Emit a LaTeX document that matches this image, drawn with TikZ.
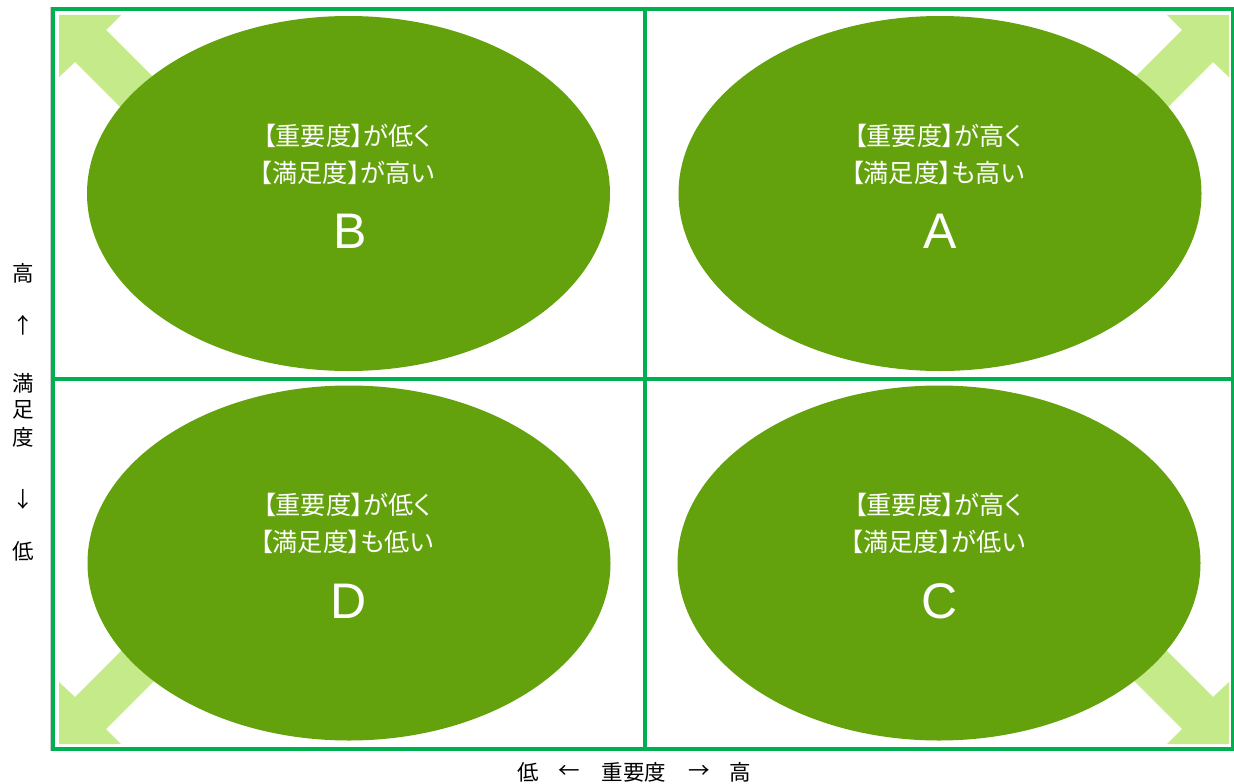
\documentclass[tikz,border=0pt]{standalone}
\usepackage{fontspec}
\newfontfamily\jp{Noto Sans CJK JP}
\newfontfamily\jpp[RawFeature=+palt]{Noto Sans CJK JP}
\newfontfamily\lat{Liberation Sans}
\usetikzlibrary{shapes.geometric}
\definecolor{frameg}{RGB}{0,176,80}
\definecolor{ellg}{RGB}{99,162,12}
\definecolor{arrg}{RGB}{196,234,138}
\begin{document}
\begin{tikzpicture}[x=1pt,y=-1pt,
  ell/.style={ellipse, fill=ellg, draw=none, inner sep=0pt, minimum width=523pt, minimum height=355pt},
  txt/.style={text=white, align=center, inner sep=0pt, font=\jpp\fontsize{25.2}{37}\selectfont},
  letter/.style={text=white, inner sep=0pt, font=\lat\fontsize{50}{50}\selectfont},
  axis/.style={text=black, inner sep=0pt, font=\jp\fontsize{21.5}{21.5}\selectfont},
  fatarrow/.style={fill=arrg, draw=none},
  gridline/.style={draw=frameg, line width=4pt}
]
\useasboundingbox (0,0) rectangle (1234,784);
\fill[white] (0,0) rectangle (1234,784);
% thin outer grey outline
\draw[gray!40, line width=0.8pt] (50.3,7.3) rectangle (1235,750.7);
% corner arrows
\def\arrowpath{(0,0) -- (62,0) -- (47,15) -- (197,165) -- (166,197) -- (16,47) -- (0,62) -- cycle}
\begin{scope}[shift={(59,15)}]
  \fill[fatarrow] \arrowpath;
\end{scope}
\begin{scope}[shift={(1229,15)}, xscale=-1]
  \fill[fatarrow] \arrowpath;
\end{scope}
\begin{scope}[shift={(59,744)}, yscale=-1]
  \fill[fatarrow] \arrowpath;
\end{scope}
\begin{scope}[shift={(1229,744)}, xscale=-1, yscale=-1]
  \fill[fatarrow] \arrowpath;
\end{scope}
% ellipses
\node[ell] (B) at (348.5,193.5) {};
\node[ell] (A) at (940,193.5) {};
\node[ell] (D) at (349,563) {};
\node[ell] (C) at (939,563) {};
% frame and dividers
\coordinate (tl) at (52.5,9.5);
\coordinate (br) at (1233,748.5);
\coordinate (mt) at (644.7,9.5);
\coordinate (mb) at (644.7,748.5);
\coordinate (ml) at (52.5,379.3);
\coordinate (mr) at (1233,379.3);
\draw[gridline] (tl) rectangle (br);
\draw[gridline] (mt) -- (mb);
\draw[gridline] (ml) -- (mr);
% ellipse texts
\node[txt] (tB) at (347,154) {【重要度】が低く\\【満足度】が高い};
\node[letter] (lB) at (350,231) {B};
\node[txt] (tA) at (938,154) {【重要度】が高く\\【満足度】も高い};
\node[letter] (lA) at (940,231) {A};
\node[txt] (tD) at (347,523.5) {【重要度】が低く\\【満足度】も低い};
\node[letter] (lD) at (349,601) {D};
\node[txt] (tC) at (938,523.5) {【重要度】が高く\\【満足度】が低い};
\node[letter] (lC) at (940,601) {C};
% vertical axis label
\node[axis] (v1) at (23,273) {高};
\node[axis] (v2) at (23,325) {↑};
\node[axis] (v3) at (23,383) {満};
\node[axis] (v4) at (23,410) {足};
\node[axis] (v5) at (23,437) {度};
\node[axis] (v6) at (23,499) {↓};
\node[axis] (v7) at (23,551) {低};
% horizontal axis label
\node[axis] (h1) at (528,772) {低};
\node[axis] (h2) at (569,772) {←};
\node[axis] (h3) at (634,772) {重要度};
\node[axis] (h4) at (699,772) {→};
\node[axis] (h5) at (740,772) {高};
\end{tikzpicture}
\end{document}
